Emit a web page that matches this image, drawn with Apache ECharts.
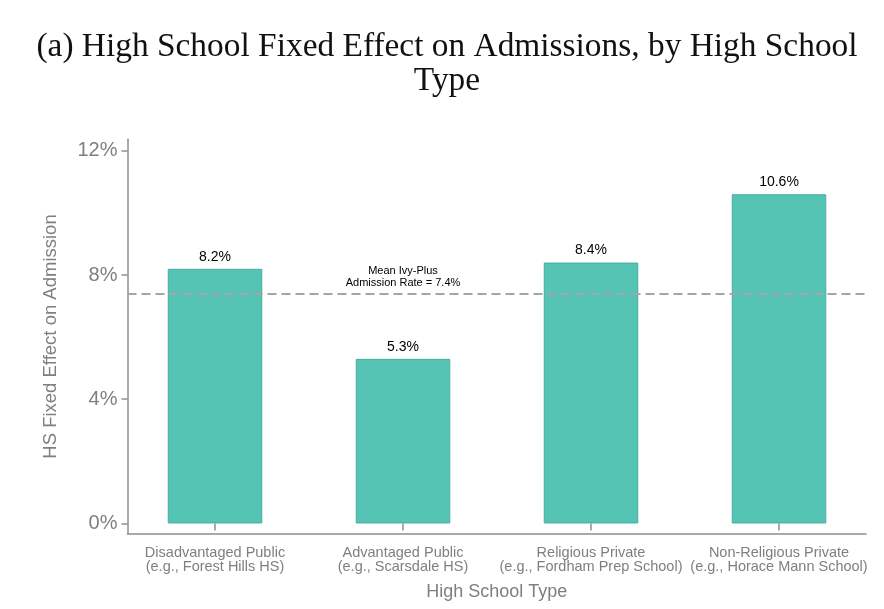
<!DOCTYPE html>
<html>
<head>
<meta charset="utf-8">
<script src="https://cdn.jsdelivr.net/npm/echarts@6/dist/echarts.min.js"></script>
<style>html,body{margin:0;padding:0;background:#fff}#c{width:884px;height:609px}</style>
</head>
<body>
<div id="c"></div>
<script>
var categories = [
  'Disadvantaged Public\n(e.g., Forest Hills HS)',
  'Advantaged Public\n(e.g., Scarsdale HS)',
  'Religious Private\n(e.g., Fordham Prep School)',
  'Non-Religious Private\n(e.g., Horace Mann School)'
];
var effects = [8.2, 5.3, 8.4, 10.6];
var meanRate = 7.4;
var tickValues = [0, 4, 8, 12];

var yMin = -0.33, yMax = 12.37;
var gridTop = 139.3, gridBottom = 75.3;
var grey = '#7f7f7f';
var axisGrey = '#8f8f8f';
var sans = 'Liberation Sans';

var chart = echarts.init(document.getElementById('c'));
chart.setOption({
  backgroundColor: '#fff',
  animation: false,
  title: {
    text: '(a) High School Fixed Effect on Admissions, by High School\nType',
    left: 442,
    textAlign: 'center',
    top: 25,
    textStyle: { fontFamily: 'Liberation Serif', fontSize: 33.4, fontWeight: 'normal', color: '#111', lineHeight: 34 }
  },
  grid: [
    { left: 121, width: 752, top: gridTop, bottom: gridBottom },
    { left: 127.5, width: 738.5, top: gridTop, bottom: gridBottom }
  ],
  xAxis: [
    {
      type: 'category', gridIndex: 0, data: categories,
      axisLine: { show: false },
      axisTick: { show: true, alignWithLabel: true, length: 7, lineStyle: { color: axisGrey, width: 1.5 } },
      axisLabel: { interval: 0, color: grey, fontFamily: sans, fontSize: 14.5, lineHeight: 14.5, margin: 12 }
    },
    {
      type: 'value', gridIndex: 1, min: 0, max: 1,
      name: 'High School Type', nameLocation: 'middle', nameGap: 49,
      nameTextStyle: { color: grey, fontFamily: sans, fontSize: 18 },
      axisLine: { show: true, onZero: false, lineStyle: { color: axisGrey, width: 1.5 } },
      axisTick: { show: false }, axisLabel: { show: false }, splitLine: { show: false }
    }
  ],
  yAxis: [
    { type: 'value', gridIndex: 0, min: yMin, max: yMax, show: false },
    {
      type: 'value', gridIndex: 1, min: yMin, max: yMax,
      name: 'HS Fixed Effect on Admission', nameLocation: 'middle', nameGap: 67,
      nameTextStyle: { color: grey, fontFamily: sans, fontSize: 18.5 },
      axisLine: { show: true, onZero: false, lineStyle: { color: axisGrey, width: 1.5 } },
      axisTick: { show: true, length: 6, customValues: tickValues, lineStyle: { color: axisGrey, width: 1.5 } },
      axisLabel: { color: grey, fontFamily: sans, fontSize: 20, margin: 10, customValues: tickValues, formatter: function (v) { return v + '%'; } },
      splitLine: { show: false }
    }
  ],
  series: [
    {
      type: 'bar', xAxisIndex: 0, yAxisIndex: 0, data: effects,
      barWidth: 94.5,
      itemStyle: { color: '#55C4B4', borderColor: '#47ad9d', borderWidth: 1 },
      label: { show: true, position: 'top', distance: 5, color: '#000', fontFamily: sans, fontSize: 14,
        formatter: function (p) { return p.value.toFixed(1) + '%'; } },
      markPoint: {
        silent: true, symbol: 'circle', symbolSize: 0,
        data: [{ coord: [categories[1], meanRate] }],
        label: { show: true, position: 'top', distance: 5, color: '#000', fontFamily: sans, fontSize: 11, lineHeight: 12,
          formatter: 'Mean Ivy-Plus\nAdmission Rate = ' + meanRate + '%' }
      }
    },
    {
      type: 'line', xAxisIndex: 1, yAxisIndex: 1, data: [],
      markLine: {
        silent: true, symbol: 'none',
        label: { show: false },
        lineStyle: { color: '#a5a5a5', type: [9, 5], width: 2 },
        data: [{ yAxis: meanRate }]
      }
    }
  ]
});
</script>
</body>
</html>
